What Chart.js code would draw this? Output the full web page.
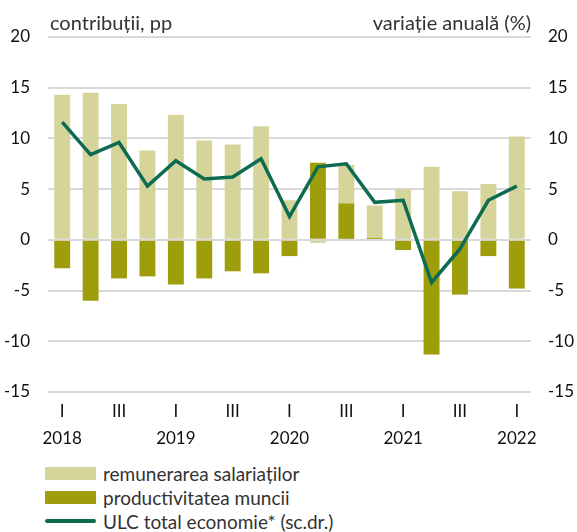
<!DOCTYPE html>
<html>
<head>
<meta charset="utf-8">
<script src="https://cdn.jsdelivr.net/npm/chart.js@4"></script>
<style>
  body { margin: 0; background: #fff; }
  #wrap { position: relative; width: 577px; height: 532px; }
  #chart-box { position: absolute; left: 0; top: 0; width: 577px; height: 455px; }
  #legend { position: absolute; left: 45px; top: 461px; font-family: Lato, sans-serif; font-size: 19px; color: #333; }
  .item { height: 24px; display: flex; align-items: center; }
  .swatch { width: 51px; height: 13px; margin-right: 7px; }
  .lineswatch { width: 51px; height: 4px; margin-right: 7px; border-radius: 2px; }
</style>
</head>
<body>
<div id="wrap">
  <div id="chart-box"><canvas id="ulc-chart" width="577" height="455"></canvas></div>
  <div id="legend"></div>
</div>
<script>
// quarters 2018 Q1 .. 2022 Q1
const quarterLabels = [
    ['I', '2018'], ['', ''], ['III', ''], ['', ''],
    ['I', '2019'], ['', ''], ['III', ''], ['', ''],
    ['I', '2020'], ['', ''], ['III', ''], ['', ''],
    ['I', '2021'], ['', ''], ['III', ''], ['', ''],
    ['I', '2022']
];

const remunerare = [14.3, 14.5, 13.4, 8.8, 12.3, 9.8, 9.4, 11.2, 3.9, -0.3, 3.8, 3.2, 5.0, 7.2, 4.8, 5.5, 10.2];
const productivitate = [-2.8, -6.0, -3.8, -3.6, -4.4, -3.8, -3.1, -3.3, -1.6, 7.6, 3.6, 0.2, -1.0, -11.3, -5.4, -1.6, -4.8];
const ulcTotal = [11.6, 8.4, 9.6, 5.3, 7.8, 6.0, 6.2, 8.0, 2.3, 7.2, 7.5, 3.7, 3.9, -4.2, -0.9, 3.9, 5.3];

const colors = {
    remunerare: '#d5d59b',
    productivitate: '#9e9e0d',
    ulc: '#0d6b51'
};

// titles above the plot
const titlePlugin = {
    id: 'titles',
    afterDraw(chart) {
        const ctx = chart.ctx;
        const area = chart.chartArea;
        ctx.save();
        ctx.font = '20px Lato, sans-serif';
        ctx.fillStyle = '#333';
        ctx.textBaseline = 'alphabetic';
        ctx.textAlign = 'left';
        ctx.fillText('contribuții, pp', area.left + 2, 30);
        ctx.textAlign = 'right';
        ctx.fillText('variație anuală (%)', area.right, 30);
        ctx.restore();
    }
};

const tickFont = { family: 'Lato, sans-serif', size: 17 };

const ctx = document.getElementById('ulc-chart').getContext('2d');
new Chart(ctx, {
    type: 'bar',
    data: {
        labels: quarterLabels,
        datasets: [
            {
                type: 'line',
                label: 'ULC total economie* (sc.dr.)',
                data: ulcTotal,
                yAxisID: 'y2',
                borderColor: colors.ulc,
                borderWidth: 3.5,
                pointRadius: 0,
                tension: 0,
                fill: false,
                order: 0
            },
            {
                label: 'productivitatea muncii',
                data: productivitate,
                backgroundColor: colors.productivitate,
                stack: 's',
                order: 1
            },
            {
                label: 'remunerarea salariaților',
                data: remunerare,
                backgroundColor: colors.remunerare,
                stack: 's',
                order: 1
            }
        ]
    },
    options: {
        responsive: false,
        animation: false,
        layout: { padding: { top: 37, left: 0, right: 0, bottom: 0 } },
        datasets: { bar: { barPercentage: 0.56, categoryPercentage: 1 } },
        plugins: {
            legend: { display: false },
            tooltip: { enabled: false }
        },
        scales: {
            x: {
                stacked: true,
                grid: { display: false, drawTicks: false },
                border: { display: false },
                ticks: {
                    autoSkip: false,
                    maxRotation: 0,
                    padding: 6,
                    color: '#111',
                    font: { ...tickFont, lineHeight: 1.6 }
                },
                afterFit(scale) { scale.height = 63; }
            },
            y: {
                stacked: true,
                position: 'left',
                min: -15,
                max: 20,
                ticks: { stepSize: 5, padding: 18, color: '#111', font: tickFont },
                grid: { color: '#d9d9d9', lineWidth: 2, drawTicks: false },
                border: { display: false },
                afterFit(scale) { scale.width = 48; }
            },
            y2: {
                position: 'right',
                min: -15,
                max: 20,
                ticks: { stepSize: 5, padding: 17, color: '#111', font: tickFont },
                grid: { display: false, drawTicks: false },
                border: { display: false },
                afterFit(scale) { scale.width = 46; }
            }
        }
    },
    plugins: [titlePlugin]
});

// legend as a plain list
const legendItems = [
    { text: 'remunerarea salariaților', color: colors.remunerare, kind: 'box' },
    { text: 'productivitatea muncii', color: colors.productivitate, kind: 'box' },
    { text: 'ULC total economie* (sc.dr.)', color: colors.ulc, kind: 'line' }
];
const legendEl = document.getElementById('legend');
legendItems.forEach(item => {
    const row = document.createElement('div');
    row.className = 'item';
    const sw = document.createElement('span');
    sw.className = item.kind === 'box' ? 'swatch' : 'lineswatch';
    sw.style.background = item.color;
    row.appendChild(sw);
    const label = document.createElement('span');
    label.textContent = item.text;
    row.appendChild(label);
    legendEl.appendChild(row);
});
</script>
</body>
</html>
